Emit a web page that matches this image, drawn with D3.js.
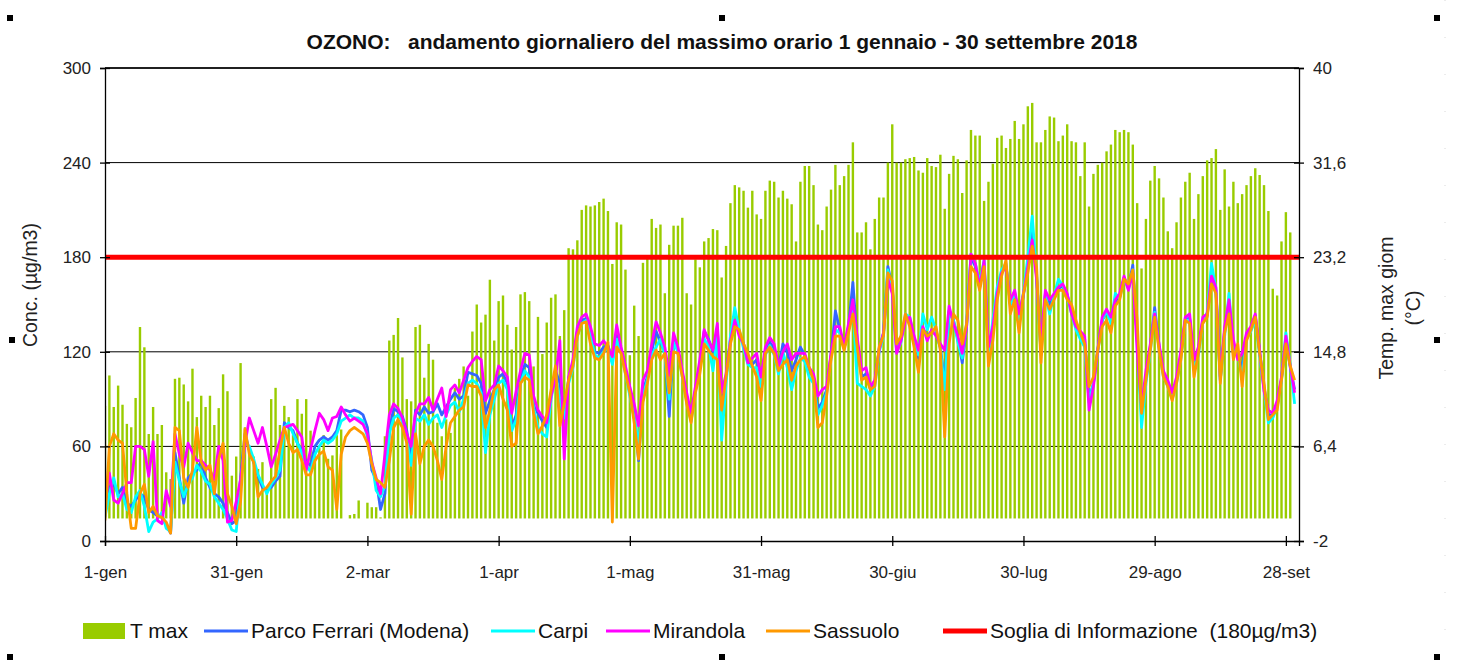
<!DOCTYPE html>
<html>
<head>
<meta charset="utf-8">
<script src="https://cdn.jsdelivr.net/npm/d3@7"></script>
<style>
  body { margin: 0; background: #fff; }
  svg { display: block; font-family: Arial, "Liberation Sans", sans-serif; }
</style>
</head>
<body>
<svg width="1473" height="664"></svg>
<script>
// one value per day, 1 gen (index 0) .. 30 set (index 272)
const tMax = [10,
  12.7, 9.9, 11.8, 10.1, 8.4, 8.1, 10.7, 17.0, 15.2, 7.5, 9.9, 7.5, 8.3, 4.1, 3.5, 12.4, 12.5, 11.9, 10.4, 13.3,
  9.0, 10.9, 9.9, 10.9, 8.3, 9.8, 12.8, 11.3, 3.8, 5.5, 13.8, 8.1, 6.3, 5.5, 4.4, 5.0, 2.3, 10.6, 11.6, 8.3,
  10.0, 9.0, 7.4, 10.6, 9.3, 10.6,
  7.8, 5.9, 6.3, 7.4, 5.3, 5.6, 7.4, 7.9,
  0, 0.3, 0.4, 1.6, 0, 1.4, 1.0, 1.0, 0.1,
  7.3, 15.8, 16.3, 17.8, 14.3, 10.6, 10.4, 17.0, 17.2, 12.5, 15.5, 14.1, 8.5, 7.3, 8.8, 7.6, 11.6, 12.4, 13.5, 10.9,
  16.6, 19.0, 17.4, 18.1, 21.2, 15.8, 19.3, 19.8, 17.2,
  15.0, 17.0, 19.9, 20.1, 19.3, 13.5, 17.9, 14.6, 17.4, 19.6, 19.9, 16.2, 18.5, 24.0, 23.9, 24.7, 27.4, 27.8, 27.7, 27.8,
  28.1, 28.4, 27.3, 22.6, 26.3, 26.1, 22.1, 14.5, 18.9, 16.2, 22.7, 23.2, 26.6, 25.8, 26.1, 20.0, 24.3, 26.0, 26.0, 26.7,
  20.0, 19.0, 23.0, 22.3, 24.6, 24.9,
  25.7, 25.6, 21.4, 24.2, 28.0, 29.6, 29.4, 29.1, 27.6, 29.1,
  27.0, 26.6, 29.1, 30.0, 29.9, 28.5, 29.1, 28.4, 27.9, 24.6,
  29.9, 31.3, 31.3, 29.6, 26.1, 25.6, 27.7, 29.2, 31.4, 29.6,
  30.4, 31.4, 33.4, 25.4, 25.4, 26.3, 23.9, 26.6, 28.5, 28.5,
  31.6, 35.0, 31.6, 31.6, 31.9, 32.0, 32.1, 30.9, 30.7, 32.0,
  31.3, 31.2, 32.3, 27.5, 30.6, 32.2, 31.9, 28.9, 31.8, 34.5,
  34.0, 34.0, 28.2, 29.9, 31.5, 33.8, 34.0, 32.9, 33.7, 35.3,
  33.7, 35.0, 36.6, 36.9, 33.4, 33.4, 34.5, 35.7, 35.6, 33.5,
  34.0, 35.0, 33.5, 33.4, 30.4, 33.4, 27.7, 30.6, 31.4, 31.6,
  32.6, 33.2, 34.5, 34.3, 34.5, 34.3, 33.2, 28.0, 22.2, 26.6,
  30.0, 31.3, 30.2, 28.5, 25.5, 24.0, 26.3, 28.5, 29.9, 30.7,
  26.6, 28.8, 30.4, 31.8, 32.0, 32.8, 27.4, 31.0, 27.7, 29.9,
  28.0, 28.8, 29.6, 30.4, 31.1, 30.5, 29.6, 27.3, 20.4, 19.8,
  24.6, 27.2, 25.4, null];

const parcoFerrari = [
  18, 34, 36, 30, 34, 24, 22, 26, 30, 28, 20, 18, 16, 15, 10, 5, 56, 40, 24, 40, 43, 45, 51, 40, 34, 30, 28, 24, 18, 11,
  13, 40, 68, 58, 50, 41, 34, 32, 34, 38, 41, 75, 72, 70, 62, 58, 50,
  48, 60, 64, 66, 64, 66, 70, 83, 83, 82, 83, 82, 80, 72, 45, 39, 20, 30, 70, 84, 82, 79, 70, 51, 83, 80, 85, 81, 82, 87,
  80, 85, 90, 94, 90, 92, 107, 106, 105, 100, 81, 89, 96, 104, 106, 100,
  72, 80, 104, 112, 110, 86, 81, 76, 72, 94, 108, 100, 80, 103, 113, 133, 140, 141, 130, 120, 119, 123, 124, 115, 130, 121,
  108, 95, 80, 51, 95, 104, 120, 133, 126, 120, 79, 128, 121, 106, 90, 78, 96, 112, 133,
  128, 120, 134, 92, 104, 128, 140, 132, 125, 114, 112, 115, 100, 121, 126, 122, 110, 125, 120, 108, 115, 123, 118, 108,
  104, 84, 88, 96, 118, 146, 134, 122, 136, 164, 126, 104, 106, 96, 100, 122, 132, 174, 161, 122, 128, 142,
  140, 128, 116, 135, 130, 133, 131, 123, 100, 146, 140, 128, 113, 136, 180, 174, 162, 176, 118, 133, 156, 170, 175, 150,
  157, 140, 156, 174, 196, 168, 120, 157, 150, 155, 160, 162, 156, 146, 136, 130, 128, 90, 100, 122, 140, 145,
  140, 152, 155, 167, 161, 175, 128, 80, 104, 123, 148, 124, 106, 100, 92, 102, 118, 141, 141, 110, 121, 140, 143, 166,
  159, 102, 134, 150, 120, 120, 108, 130, 135, 143, 120, 98, 80, 80, 86, 103, 128, 110, 96];

const carpi = [
  15, 30, 40, 28, 30, 20, 18, 28, 32, 22, 6, 12, 14, 18, 8, 6, 50, 38, 28, 36, 40, 48, 44, 38, 36, 28, 24, 20, 14, 7,
  6, 36, 62, 60, 52, 42, 36, 30, 36, 40, 45, 72, 75, 68, 62, 56, 48,
  44, 55, 60, 64, 62, 64, 68, 76, 78, 80, 78, 78, 76, 66, 51, 32, 28, 35, 68, 78, 80, 76, 64, 48, 78, 76, 80, 74, 78, 80,
  72, 80, 86, 88, 82, 90, 100, 102, 100, 94, 56, 80, 90, 100, 102, 96,
  70, 77, 100, 108, 104, 84, 72, 68, 66, 90, 106, 90, 78, 100, 110, 130, 138, 140, 130, 118, 116, 120, 122, 112, 128, 120,
  106, 92, 78, 62, 92, 102, 118, 123, 128, 118, 90, 126, 120, 104, 88, 76, 95, 110, 128,
  124, 108, 130, 64, 100, 130, 148, 134, 122, 112, 110, 110, 98, 118, 124, 118, 106, 120, 110, 96, 108, 116, 114, 104,
  100, 80, 86, 94, 116, 134, 132, 123, 134, 150, 100, 98, 96, 92, 98, 120, 130, 172, 160, 120, 126, 144,
  142, 128, 118, 144, 134, 142, 134, 122, 96, 146, 140, 126, 116, 138, 182, 176, 164, 178, 118, 140, 161, 172, 176, 150,
  158, 140, 158, 180, 206, 170, 118, 156, 144, 156, 166, 162, 155, 144, 134, 128, 123, 88, 100, 120, 140, 146,
  138, 157, 154, 166, 160, 172, 130, 72, 100, 120, 145, 122, 104, 98, 90, 100, 116, 140, 140, 108, 118, 138, 145, 176,
  160, 102, 130, 157, 122, 118, 104, 128, 133, 140, 118, 96, 75, 78, 85, 102, 132, 112, 87];

const mirandola = [
  23, 43, 26, 24, 30, 37, 37, 60, 60, 58, 41, 63, 13, 11, 32, 22, 68, 55, 47, 62, 56, 51, 51, 48, 45, 39, 60, 51, 12, 13,
  25, 39, 61, 78, 70, 62, 72, 60, 47, 55, 64, 72, 73, 74, 70, 66, 45,
  58, 70, 81, 77, 70, 78, 79, 85, 80, 76, 78, 76, 74, 68, 50, 40, 30, 55, 80, 87, 84, 78, 68, 60, 81, 87, 87, 91, 83, 90,
  97, 79, 96, 99, 94, 102, 110, 114, 117, 115, 89, 96, 99, 111, 108, 104,
  81, 95, 108, 119, 118, 92, 83, 79, 75, 92, 103, 127, 52, 104, 115, 136, 142, 144, 136, 125, 124, 127, 123, 117, 137, 123,
  111, 98, 87, 73, 102, 108, 125, 139, 132, 123, 105, 132, 123, 108, 94, 81, 98, 115, 134,
  127, 121, 138, 94, 106, 127, 140, 130, 125, 113, 116, 119, 104, 123, 129, 125, 111, 120, 125, 115, 119, 119, 119, 110,
  106, 92, 96, 98, 119, 136, 136, 123, 138, 153, 129, 108, 110, 98, 102, 121, 132, 166, 157, 119, 127, 140,
  142, 130, 121, 136, 127, 134, 130, 125, 121, 149, 138, 130, 119, 136, 182, 176, 161, 178, 123, 136, 157, 170, 174, 153,
  159, 144, 157, 174, 191, 166, 125, 159, 153, 157, 161, 163, 157, 144, 136, 133, 130, 83, 98, 121, 142, 147,
  142, 153, 157, 168, 159, 170, 120, 85, 108, 125, 144, 125, 108, 102, 94, 104, 121, 142, 144, 115, 123, 142, 144, 168,
  161, 104, 136, 153, 128, 115, 119, 132, 136, 144, 121, 95, 83, 81, 89, 104, 130, 111, 94];

const sassuolo = [
  13, 60, 68, 64, 62, 30, 8, 8, 30, 36, 18, 22, 16, 15, 12, 5, 72, 70, 40, 34, 45, 72, 50, 45, 48, 30, 52, 62, 30, 22,
  11, 25, 71, 55, 50, 28, 32, 34, 38, 41, 58, 72, 62, 56, 58, 51, 42,
  42, 51, 55, 57, 47, 45, 20, 55, 66, 70, 72, 70, 68, 62, 49, 39, 37, 34, 51, 72, 77, 72, 62, 17, 68, 49, 60, 64, 60, 51,
  39, 60, 75, 79, 83, 85, 99, 98, 98, 92, 72, 83, 96, 99, 90, 83,
  60, 62, 100, 104, 102, 81, 68, 73, 80, 96, 111, 73, 87, 102, 111, 130, 138, 139, 125, 116, 115, 119, 126, 12, 123, 119,
  106, 94, 75, 52, 88, 100, 115, 121, 115, 119, 94, 120, 119, 104, 87, 75, 94, 106, 125,
  121, 117, 115, 83, 104, 125, 136, 134, 125, 119, 111, 104, 89, 119, 123, 119, 108, 112, 115, 102, 111, 115, 117, 110,
  102, 72, 75, 92, 115, 130, 130, 121, 132, 144, 123, 102, 104, 96, 98, 123, 130, 170, 165, 125, 130, 144,
  136, 123, 107, 134, 130, 132, 136, 121, 66, 125, 144, 140, 125, 138, 174, 170, 159, 174, 111, 127, 153, 168, 178, 144,
  153, 132, 157, 170, 187, 174, 113, 153, 147, 153, 159, 159, 153, 150, 140, 132, 125, 98, 104, 121, 136, 140,
  132, 149, 153, 166, 163, 172, 140, 81, 102, 121, 142, 121, 104, 98, 89, 100, 115, 140, 138, 104, 119, 138, 142, 163,
  157, 100, 132, 144, 115, 125, 98, 127, 134, 142, 119, 100, 77, 80, 83, 102, 125, 111, 102];

const soglia = 180;
const tickDays = [0, 30, 60, 90, 120, 150, 180, 210, 240, 270];
const tickLabels = ["1-gen", "31-gen", "2-mar", "1-apr", "1-mag", "31-mag", "30-giu", "30-lug", "29-ago", "28-set"];
const concTicks = [0, 60, 120, 180, 240, 300];
const tempTicks = [-2, 6.4, 14.8, 23.2, 31.6, 40];

[["tMax", tMax], ["parcoFerrari", parcoFerrari], ["carpi", carpi], ["mirandola", mirandola], ["sassuolo", sassuolo]]
  .forEach(function(s) { if (s[1].length !== 273) throw new Error(s[0] + " has " + s[1].length); });

var svg = d3.select("svg"),
    width = +svg.attr("width"),
    height = +svg.attr("height");

var m = { left: 105, right: 1299, top: 68, bottom: 541 };

var x = d3.scaleLinear().domain([0, 273]).range([m.left, m.right]);
var y = d3.scaleLinear().domain([0, 300]).range([m.bottom, m.top]);
var yT = d3.scaleLinear().domain([-2, 40]).range([m.bottom, m.top]);

svg.append("rect").attr("width", width).attr("height", height).attr("fill", "#fff");

svg.append("defs").append("clipPath").attr("id", "plot")
  .append("rect").attr("x", m.left).attr("y", m.top).attr("width", m.right - m.left).attr("height", m.bottom - m.top);

// gridlines
svg.append("g")
  .selectAll("line")
  .data(concTicks.slice(1))
  .enter().append("line")
  .attr("x1", m.left).attr("x2", m.right)
  .attr("y1", d => y(d)).attr("y2", d => y(d))
  .attr("stroke", "#000").attr("stroke-width", 1);

var plot = svg.append("g").attr("clip-path", "url(#plot)");

// T max bars, from 0 °C
plot.append("g")
  .selectAll("rect")
  .data(tMax.map((v, i) => ({ day: i, v: v })).filter(d => d.v != null && d.v > 0))
  .enter().append("rect")
  .attr("x", d => x(d.day) - 1.2)
  .attr("width", 2.4)
  .attr("y", d => yT(d.v))
  .attr("height", d => yT(0) - yT(d.v))
  .attr("fill", "#99CC00");

var series = [
  { name: "Parco Ferrari (Modena)", color: "#3366FF", values: parcoFerrari },
  { name: "Carpi", color: "#00FFFF", values: carpi },
  { name: "Mirandola", color: "#FF00FF", values: mirandola },
  { name: "Sassuolo", color: "#FF9900", values: sassuolo }
];

var line = d3.line()
  .defined(d => d != null)
  .x((d, i) => x(i))
  .y(d => y(d));

plot.selectAll(".serie")
  .data(series)
  .enter().append("path")
  .attr("class", "serie")
  .attr("d", d => line(d.values))
  .attr("fill", "none")
  .attr("stroke", d => d.color)
  .attr("stroke-width", 2.8)
  .attr("stroke-linejoin", "round");

// soglia di informazione
svg.append("line")
  .attr("x1", m.left).attr("x2", m.right)
  .attr("y1", y(soglia)).attr("y2", y(soglia))
  .attr("stroke", "#FF0000").attr("stroke-width", 5);

// axes
var fmt = d => String(d).replace(".", ",");

var gLeft = svg.append("g")
  .attr("transform", "translate(" + m.left + ",0)")
  .call(d3.axisLeft(y).tickValues(concTicks).tickSize(5).tickPadding(9));

var gRight = svg.append("g")
  .attr("transform", "translate(" + m.right + ",0)")
  .call(d3.axisRight(yT).tickValues(tempTicks).tickSize(5).tickPadding(9).tickFormat(fmt));

var gBottom = svg.append("g")
  .attr("transform", "translate(0," + m.bottom + ")")
  .call(d3.axisBottom(x).tickValues(tickDays).tickSize(5).tickPadding(20)
    .tickFormat((d, i) => tickLabels[i]));

[gLeft, gRight, gBottom].forEach(function(g) {
  g.select(".domain").attr("stroke", "#000").attr("stroke-width", 1.3);
  g.selectAll(".tick line").attr("stroke", "#000").attr("stroke-width", 1.3);
  g.selectAll(".tick text").attr("fill", "#222").style("font-size", "17px")
    .style("font-family", "Arial, 'Liberation Sans', sans-serif");
});
gLeft.selectAll(".tick line").attr("x1", 5);
gRight.selectAll(".tick line").attr("x1", -5);
gBottom.selectAll(".tick line").attr("y1", -5);

// top border
svg.append("line")
  .attr("x1", m.left).attr("x2", m.right).attr("y1", m.top).attr("y2", m.top)
  .attr("stroke", "#000").attr("stroke-width", 1.3);

// titles
svg.append("text")
  .attr("x", 722).attr("y", 49)
  .attr("text-anchor", "middle")
  .style("font-size", "21px").style("font-weight", "bold")
  .attr("fill", "#111")
  .attr("xml:space", "preserve")
  .text("OZONO:   andamento giornaliero del massimo orario 1 gennaio - 30 settembre 2018");

svg.append("text")
  .attr("transform", "translate(37,285) rotate(-90)")
  .attr("text-anchor", "middle")
  .style("font-size", "19.5px").attr("fill", "#222")
  .text("Conc. (µg/m3)");

var rt = svg.append("text")
  .attr("transform", "translate(1393,308) rotate(-90)")
  .attr("text-anchor", "middle")
  .style("font-size", "19.5px").attr("fill", "#222");
rt.append("tspan").attr("x", 0).attr("dy", 0).text("Temp. max giom");
rt.append("tspan").attr("x", 0).attr("dy", 27).text("(°C)");

// legend
var legendItems = [
  { name: "T max", color: "#99CC00", type: "rect", tx: 130 },
  { name: series[0].name, color: series[0].color, type: "line", tx: 251 },
  { name: series[1].name, color: series[1].color, type: "line", tx: 538 },
  { name: series[2].name, color: series[2].color, type: "line", tx: 653 },
  { name: series[3].name, color: series[3].color, type: "line", tx: 813 },
  { name: "Soglia di Informazione  (180µg/m3)", color: "#FF0000", type: "line", tx: 990, w: 5 }
];

var legend = svg.append("g").attr("transform", "translate(0,631)");
legendItems.forEach(function(d) {
  if (d.type === "rect") {
    legend.append("rect").attr("x", 83).attr("y", -8).attr("width", 42).attr("height", 16).attr("fill", d.color);
  } else {
    legend.append("line").attr("x1", d.tx - 47).attr("x2", d.tx - 3).attr("y1", 0).attr("y2", 0)
      .attr("stroke", d.color).attr("stroke-width", d.w || 3);
  }
  legend.append("text").attr("x", d.tx).attr("y", 7)
    .attr("xml:space", "preserve")
    .style("font-size", "21px").attr("fill", "#111").text(d.name);
});

// faint guide on the right edge of the sheet
svg.append("line")
  .attr("x1", 1445).attr("x2", 1445).attr("y1", 0).attr("y2", height)
  .attr("stroke", "#d8d8d8").attr("stroke-dasharray", "1,36");

// selection handles of the chart object
var handles = [[10, 18], [722, 18], [1437, 18], [12, 340], [1437, 340], [10, 657], [722, 657], [1437, 657]];
svg.append("g").selectAll("rect").data(handles).enter().append("rect")
  .attr("x", d => d[0] - 3).attr("y", d => d[1] - 3).attr("width", 6).attr("height", 6).attr("fill", "#000");
</script>
</body>
</html>
